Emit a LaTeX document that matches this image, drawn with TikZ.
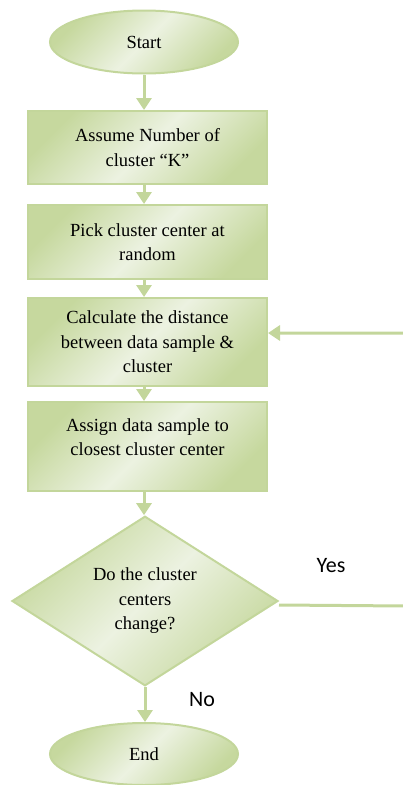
\documentclass[tikz,border=0pt]{standalone}
\usepackage{fontspec}
\setmainfont{Liberation Serif}
\newfontfamily\timesfont[Ligatures=TeX]{Liberation Serif}
\newfontfamily\calibrifont{Carlito}
\usetikzlibrary{shapes.geometric,arrows.meta}
\definecolor{gborder}{RGB}{195,214,155}
\definecolor{glight}{RGB}{236,242,225}
\definecolor{gdark}{RGB}{198,216,158}
\tikzset{
  shadefill/.style={draw=gborder, line width=2pt, top color=gdark, bottom color=gdark, middle color=glight, shading angle=45},
  txtfont/.style={font=\timesfont\fontsize{18.5}{24.5}\selectfont},
  boxstyle/.style={shadefill, rectangle, minimum width=239pt, inner sep=0pt, align=center, txtfont},
  ellstyle/.style={shadefill, ellipse, minimum width=188pt, minimum height=63pt, inner sep=0pt, txtfont},
  decstyle/.style={shadefill, diamond, minimum width=266pt, minimum height=162pt, inner sep=0pt, align=center, txtfont},
  plaintxt/.style={inner sep=0pt, align=center, txtfont},
  lbl/.style={inner sep=0pt, font=\calibrifont\fontsize{22}{26}\selectfont},
  arr/.style={draw=gborder, line width=3pt, -{Triangle[width=15pt,length=12pt]}}
}
\begin{document}
\begin{tikzpicture}[x=1pt,y=-1pt]
\useasboundingbox (0,0) rectangle (402,785);
\node[ellstyle] (start) at (144,42) {Start};
\node[boxstyle, minimum height=73pt] (assume) at (147.5,147.5) {Assume Number of\\cluster “K”};
\node[boxstyle, minimum height=74pt] (pick) at (147.5,242) {Pick cluster center at\\random};
\node[boxstyle, minimum height=88pt] (calc) at (147.5,342) {Calculate the distance\\between data sample \&\\cluster};
\node[boxstyle, minimum height=89pt] (assign) at (147.5,446.5) {};
\node[plaintxt] (assigntxt) at (147.5,437) {Assign data sample to\\closest cluster center};
\node[decstyle] (decide) at (145,601) {Do the cluster\\centers\\change?};
\node[ellstyle, minimum height=62pt] (end) at (144,754) {End};
\node[lbl] (yes) at (331,566) {Yes};
\node[lbl] (no) at (202,700) {No};
\coordinate (loopc) at (406,606);
\draw[arr] (start.south) -- (start.south |- assume.north);
\draw[arr] (assume.south -| start.south) -- (start.south |- pick.north);
\draw[arr] (pick.south -| start.south) -- (start.south |- calc.north);
\draw[arr] (calc.south -| start.south) -- (start.south |- assign.north);
\draw[arr] (assign.south -| start.south) -- (start.south |- decide.north);
\draw[arr] (decide.south) -- (decide.south |- end.north);
\draw[arr] ([yshift=-4pt]decide.east) -- (loopc) |- ([yshift=9pt]calc.east);
\end{tikzpicture}
\end{document}
